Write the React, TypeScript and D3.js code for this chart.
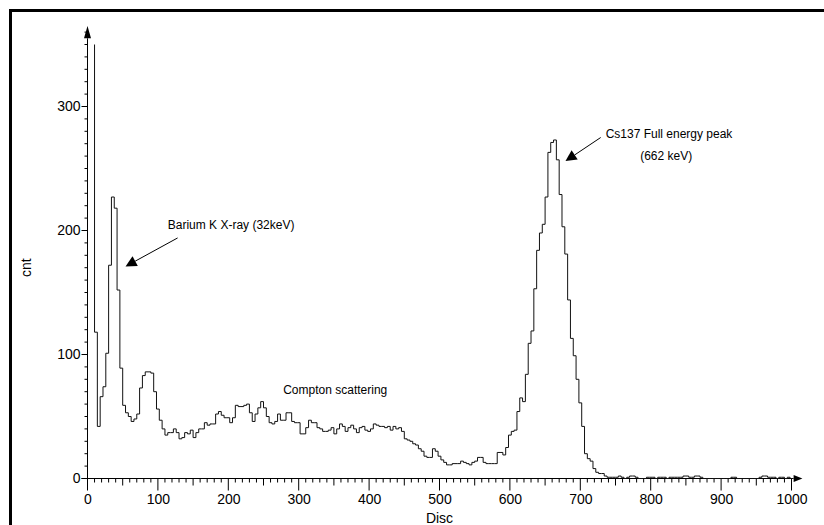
import React, { useEffect, useRef } from 'react';
import * as d3 from 'd3';

// spectrum counts, one value per 4-unit disc bin; value i is the bin ending at binStart + 4*i
const binStart = 10;
const binWidth = 4;
const counts = [
  350, 118, 42, 66, 74, 101, 172, 227, 218, 152,
  89, 59, 53, 50, 46, 48, 52, 73, 83, 86,
  86, 85, 70, 56, 47, 40, 35, 37, 37,
  40, 37, 32, 33, 37, 36, 39, 33, 37, 40,
  40, 45, 43, 44, 44, 52, 54, 51, 49, 49,
  45, 49, 59, 58, 58, 59, 60, 53, 46, 52,
  57, 62, 57, 50, 45, 44, 46, 52, 47, 47,
  53, 53, 46, 45, 45, 36, 36, 41, 47, 45,
  45, 41, 40, 38, 38, 39, 41, 36, 40, 44,
  42, 38, 41, 43, 40, 37, 41, 42, 39,
  38, 40, 44, 43, 42, 42, 41, 42, 39, 42,
  40, 41, 38, 32, 31, 30, 28, 27, 24, 22,
  18, 17, 17, 24, 22, 18, 15, 13, 11, 11,
  12, 12, 12, 14, 13, 12, 11, 13, 14,
  17, 17, 13, 12, 12, 12, 12,
  21, 21, 19, 25, 35, 38, 39,
  54, 65, 62, 84, 109, 119, 153,
  184, 198, 205, 227, 263, 271, 273,
  257, 229, 203, 181, 144, 113, 99,
  80, 61, 42, 20, 16, 14, 8,
  5, 4, 4, 2, 1,
  1, 1, 1, 2, 1,
  0, 1, 2, 2, 1, 0, 0, 0, 1, 1,
  1, 0, 1, 1, 1, 0, 1, 1, 1, 1,
  1, 2, 2, 1, 1, 2, 2, 1, 0, 0,
  0, 0, 0, 0, 0, 0, 0, 0, 1, 1,
  0, 0, 0, 0, 0, 0, 0, 0, 1, 2,
  2, 1, 1, 1, 0, 1, 1, 0, 1, 0
];

const xTickValues = [0, 100, 200, 300, 400, 500, 600, 700, 800, 900, 1000];
const yTickValues = [0, 100, 200, 300];
const xLabel = 'Disc';
const yLabel = 'cnt';

// arrows: tail and tip in data units
const arrows = [
  { from: [128, 194], to: [54, 171] },
  { from: [729, 275], to: [679, 256] }
];
const notes = [
  { text: 'Barium K X-ray (32keV)', at: [114, 201], anchor: 'start' },
  { text: 'Cs137 Full energy peak', at: [826, 275], anchor: 'middle' },
  { text: '(662 keV)', at: [822, 256.5], anchor: 'middle' },
  { text: 'Compton scattering', at: [278, 68], anchor: 'start' }
];

const font = '"Liberation Sans", Arial, sans-serif';

export default function App() {
  const ref = useRef<SVGSVGElement>(null);

  useEffect(() => {
    const svg = d3.select(ref.current);
    svg.selectAll('*').remove();

    const x = d3.scaleLinear().domain([0, 1000]).range([87.5, 791.5]);
    const y = d3.scaleLinear().domain([0, 300]).range([478.5, 106.5]);

    // outer frame (runs off the page on right / bottom)
    svg.append('rect')
      .attr('x', 10.5).attr('y', 10.5)
      .attr('width', 900).attr('height', 600)
      .attr('fill', 'none').attr('stroke', '#000').attr('stroke-width', 3);

    // minor ticks
    const xMinor = d3.range(0, 1001, 10);
    svg.append('g').selectAll('line').data(xMinor).join('line')
      .attr('x1', d => x(d)).attr('x2', d => x(d))
      .attr('y1', y(0)).attr('y2', d => y(0) + (d % 100 === 0 ? 12 : d % 50 === 0 ? 7 : 4))
      .attr('stroke', '#000').attr('stroke-width', 1);

    const yMinor = d3.range(0, 361, 10);
    svg.append('g').selectAll('line').data(yMinor).join('line')
      .attr('y1', d => y(d)).attr('y2', d => y(d))
      .attr('x1', x(0)).attr('x2', d => x(0) - (d % 100 === 0 ? 6 : 3))
      .attr('stroke', '#000').attr('stroke-width', 1);

    // tick labels
    const xAxis = d3.axisBottom(x).tickValues(xTickValues).tickSize(12).tickPadding(4).tickFormat(d3.format('d'));
    const gx = svg.append('g').attr('transform', `translate(0,${y(0)})`).call(xAxis);
    gx.select('.domain').remove();
    gx.selectAll('line').remove();
    gx.selectAll('text').attr('font-size', 14).attr('font-family', font).attr('fill', '#000');

    const yAxis = d3.axisLeft(y).tickValues(yTickValues).tickSize(6).tickPadding(1).tickFormat(d3.format('d'));
    const gy = svg.append('g').attr('transform', `translate(${x(0)},0)`).call(yAxis);
    gy.select('.domain').remove();
    gy.selectAll('line').remove();
    gy.selectAll('text').attr('font-size', 14).attr('font-family', font).attr('fill', '#000');

    // axis lines with arrow heads
    svg.append('line')
      .attr('x1', x(0) - 6).attr('x2', x(1003)).attr('y1', y(0)).attr('y2', y(0))
      .attr('stroke', '#000').attr('stroke-width', 1);
    svg.append('polygon')
      .attr('points', [[x(1015.5), y(0)], [x(1003), y(0) - 3.5], [x(1003), y(0) + 3.5]].map(p => p.join(',')).join(' '))
      .attr('fill', '#000');
    svg.append('line')
      .attr('x1', x(0)).attr('x2', x(0)).attr('y1', y(0)).attr('y2', y(355))
      .attr('stroke', '#000').attr('stroke-width', 1);
    svg.append('polygon')
      .attr('points', [[x(0), y(365)], [x(0) - 3.5, y(355)], [x(0) + 3.5, y(355)]].map(p => p.join(',')).join(' '))
      .attr('fill', '#000');

    // axis titles
    svg.append('text')
      .attr('x', x(500)).attr('y', 523)
      .attr('text-anchor', 'middle')
      .attr('font-size', 14).attr('font-family', font)
      .text(xLabel);
    svg.append('text')
      .attr('transform', `translate(31,${y(170)}) rotate(-90)`)
      .attr('text-anchor', 'middle')
      .attr('font-size', 14).attr('font-family', font)
      .text(yLabel);

    // spectrum as steps (value drawn over the bin that ends at its point)
    const pts: [number, number][] = counts.map((c, i) => [binStart + i * binWidth, c]);
    const line = d3.line<[number, number]>()
      .x(d => x(d[0]))
      .y(d => y(d[1]))
      .curve(d3.curveStepBefore);
    svg.append('path')
      .attr('d', line(pts))
      .attr('fill', 'none')
      .attr('stroke', '#111')
      .attr('stroke-width', 1);

    // annotation arrows
    arrows.forEach(a => {
      const x1 = x(a.from[0]), y1 = y(a.from[1]);
      const x2 = x(a.to[0]), y2 = y(a.to[1]);
      const len = Math.hypot(x2 - x1, y2 - y1);
      const ux = (x2 - x1) / len, uy = (y2 - y1) / len;
      const bx = x2 - ux * 11, by = y2 - uy * 11;
      svg.append('line')
        .attr('x1', x1).attr('y1', y1).attr('x2', bx).attr('y2', by)
        .attr('stroke', '#000').attr('stroke-width', 1);
      svg.append('polygon')
        .attr('points', [[x2, y2], [bx - uy * 5.5, by + ux * 5.5], [bx + uy * 5.5, by - ux * 5.5]].map(p => p.join(',')).join(' '))
        .attr('fill', '#000');
    });

    notes.forEach(n => {
      svg.append('text')
        .attr('x', x(n.at[0])).attr('y', y(n.at[1]))
        .attr('text-anchor', n.anchor)
        .attr('font-size', 12).attr('font-family', font)
        .text(n.text);
    });
  }, []);

  return (
    <svg ref={ref} width={824} height={525}
      style={{ position: 'absolute', left: 0, top: 0, background: '#fff' }} />
  );
}
